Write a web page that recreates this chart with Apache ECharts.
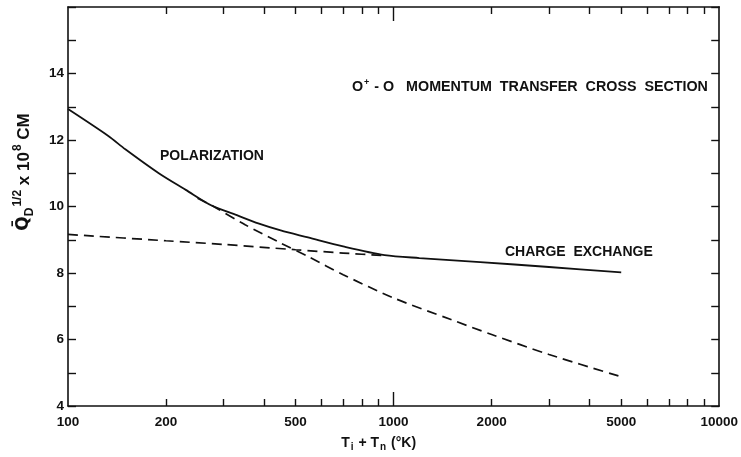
<!DOCTYPE html>
<html><head><meta charset="utf-8">
<script src="https://cdn.jsdelivr.net/npm/echarts@6/dist/echarts.min.js"></script>
<style>html,body{margin:0;padding:0;background:#fff}#c{width:741px;height:457px}</style>
</head><body><div id="c"></div>
<script>
// Data
const totalT = [100, 133, 150, 190, 230, 276, 330, 384, 450, 546, 700, 938, 1200, 1845, 3000, 5000];
const totalQ = [12.93, 12.12, 11.72, 11.0, 10.5, 10.03, 9.74, 9.49, 9.28, 9.07, 8.8, 8.54, 8.45, 8.33, 8.18, 8.02];
const polT = [250, 280, 350, 450, 550, 700, 1000, 1500, 2000, 3000, 5000];
const polQ = [10.25, 10.0, 9.45, 8.9, 8.48, 7.95, 7.25, 6.6, 6.15, 5.55, 4.88];
const cxT = [100, 200, 300, 500, 700, 950];
const cxQ = [9.16, 8.97, 8.86, 8.7, 8.6, 8.52];
const xLabelValues = [100, 200, 500, 1000, 2000, 5000, 10000];
const xMinorTicks = [200, 300, 400, 500, 600, 700, 800, 900, 2000, 3000, 4000, 5000, 6000, 7000, 8000, 9000];
const xMajorTicks = [1000];
const yLabelValues = [4, 6, 8, 10, 12, 14];

const pair = (xs, ys) => xs.map((x, i) => [x, ys[i]]);
const FONT = 'Liberation Sans';
const chart = echarts.init(document.getElementById('c'), null, {renderer: 'canvas'});
const lineCol = '#111';
const xBase = (pos, ticks, len, showLine, showLabel) => ({
  type: 'log', logBase: 10, min: 100, max: 10000, position: pos,
  axisLine: {show: showLine, lineStyle: {color: lineCol, width: 1.6}},
  axisTick: {show: true, inside: true, length: len, customValues: ticks, lineStyle: {color: lineCol, width: 1.4}},
  axisLabel: showLabel ? {show: true, customValues: xLabelValues, formatter: v => String(Math.round(v)),
    color: '#111', fontFamily: FONT, fontWeight: 'bold', fontSize: 13.5, margin: 9} : {show: false},
  splitLine: {show: false}
});
const yBase = (pos, showLabel) => ({
  type: 'value', min: 4, max: 16, interval: 1, position: pos,
  axisLine: {show: true, lineStyle: {color: lineCol, width: 1.6}},
  axisTick: {show: true, inside: true, length: 8, lineStyle: {color: lineCol, width: 1.4}},
  axisLabel: showLabel ? {show: true, color: '#111', fontFamily: FONT, fontWeight: 'bold', fontSize: 13.5, margin: 4,
    formatter: v => yLabelValues.includes(v) ? String(v) : ''} : {show: false},
  splitLine: {show: false}
});
const x0 = xBase('bottom', xMinorTicks, 7, true, true);
x0.name = '{a|T}{s|i}{a| + T}{s|n}{a| (°K)}';
x0.nameLocation = 'middle';
x0.nameGap = 28;
x0.nameTextStyle = {padding: [0, 30, 0, 0], rich: {
  a: {fontFamily: FONT, fontWeight: 'bold', fontSize: 14, color: '#111'},
  s: {fontFamily: FONT, fontWeight: 'bold', fontSize: 10, color: '#111', padding: [8, 1, 0, 1]}
}};
const option = {
  animation: false,
  backgroundColor: '#fff',
  grid: {left: 68, right: 19, top: 7, bottom: 48},
  xAxis: [
    x0,
    xBase('bottom', xMajorTicks, 14, false, false),
    xBase('top', xMinorTicks, 7, true, false),
    xBase('top', xMajorTicks, 14, false, false)
  ],
  yAxis: [yBase('left', true), yBase('right', false)],
  series: [
    {type: 'line', name: 'Total', data: pair(totalT, totalQ), smooth: 0.3, symbol: 'none',
     lineStyle: {color: lineCol, width: 1.8}, z: 3},
    {type: 'line', name: 'Polarization', data: pair(polT, polQ), smooth: 0.3, symbol: 'none',
     lineStyle: {color: lineCol, width: 1.7, type: [10, 6]}, z: 2},
    {type: 'line', name: 'Charge exchange', data: pair(cxT, cxQ), smooth: 0.3, symbol: 'none',
     lineStyle: {color: lineCol, width: 1.7, type: [10, 6]}, z: 2}
  ],
  graphic: [
    {type: 'text', x: 24, y: 172, rotation: Math.PI / 2, style: {
      text: '{q|Q̄}{s|D}{p|1/2}{a| x 10}{p|8}{a| CM}', align: 'center', verticalAlign: 'middle',
      rich: {
        q: {fontFamily: 'DejaVu Sans', fontWeight: 'bold', fontSize: 17, fill: '#111'},
        a: {fontFamily: FONT, fontWeight: 'bold', fontSize: 17, fill: '#111'},
        s: {fontFamily: FONT, fontWeight: 'bold', fontSize: 12, fill: '#111', padding: [12, 0, 0, 0]},
        p: {fontFamily: FONT, fontWeight: 'bold', fontSize: 12, fill: '#111', padding: [0, 0, 12, 1]}
      }}},
    {type: 'text', left: 352, top: 78, style: {
      text: '{a|O}{p|+}{a| - O   MOMENTUM  TRANSFER  CROSS  SECTION}',
      rich: {a: {fontFamily: FONT, fontWeight: 'bold', fontSize: 14.3, fill: '#111'},
             p: {fontFamily: FONT, fontWeight: 'bold', fontSize: 9, fill: '#111', padding: [0, 1, 9, 1]}}}},
    {type: 'text', left: 160, top: 149, style: {text: 'POLARIZATION', fontFamily: FONT, fontWeight: 'bold', fontSize: 14, fill: '#111'}},
    {type: 'text', left: 505, top: 245, style: {text: 'CHARGE  EXCHANGE', fontFamily: FONT, fontWeight: 'bold', fontSize: 14, fill: '#111'}}
  ]
};
chart.setOption(option);
</script></body></html>
